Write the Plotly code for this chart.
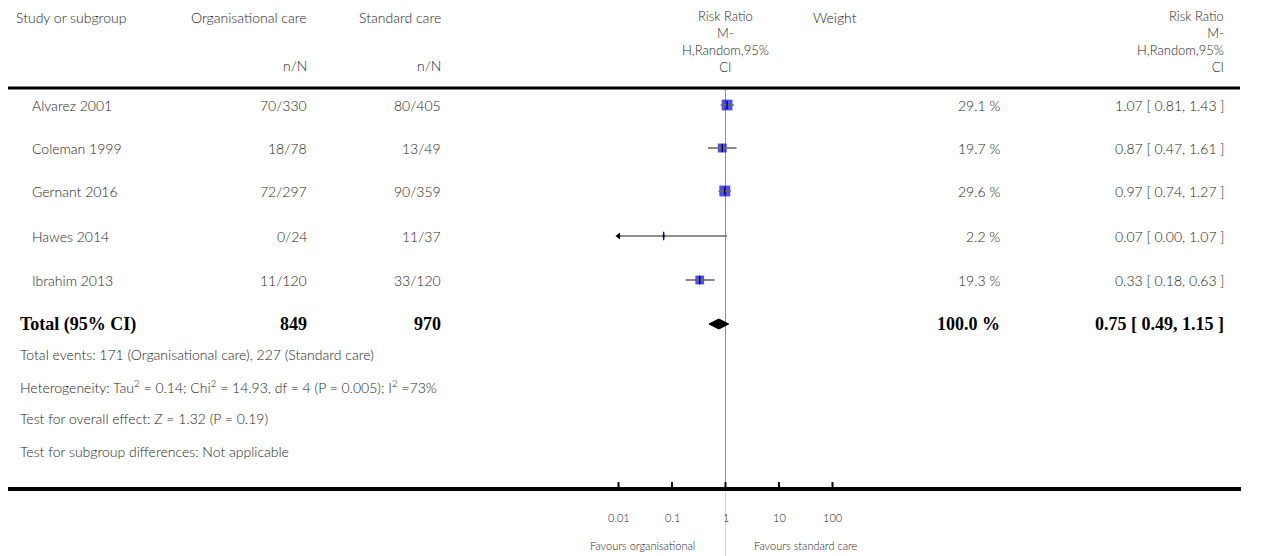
import math
import plotly.graph_objects as go

# ---------------- data ----------------
studies = ["Alvarez 2001", "Coleman 1999", "Gernant 2016", "Hawes 2014", "Ibrahim 2013"]
org_events = ["70/330", "18/78", "72/297", "0/24", "11/120"]
std_events = ["80/405", "13/49", "90/359", "11/37", "33/120"]
rr = [1.07, 0.87, 0.97, 0.07, 0.33]
ci_low = [0.81, 0.47, 0.74, 0.00, 0.18]
ci_high = [1.43, 1.61, 1.27, 1.07, 0.63]
weights = [29.1, 19.7, 29.6, 2.2, 19.3]

total_org = 849
total_std = 970
total_rr = 0.75
total_low = 0.49
total_high = 1.15
total_weight = 100.0

footer_lines = [
    "Total events: 171 (Organisational care), 227 (Standard care)",
    "Heterogeneity: Tau<sup>2</sup> = 0.14; Chi<sup>2</sup> = 14.93, df = 4 (P = 0.005); I<sup>2</sup> =73%",
    "Test for overall effect: Z = 1.32 (P = 0.19)",
    "Test for subgroup differences: Not applicable",
]

tick_vals = [0.01, 0.1, 1, 10, 100]
tick_text = ["0.01", "0.1", "1", "10", "100"]
favours_left = "Favours organisational"
favours_right = "Favours standard care"

# ---------------- layout constants ----------------
W, H = 1270, 556
X_ONE = 725.5      # pixel of RR = 1
DECADE = 53.5      # pixels per decade
PLOT_MIN, PLOT_MAX = 0.01, 100
row_y = [105, 148, 191, 236, 280]
total_y = 324
footer_y = [354, 386, 418, 451]
axis_y = 489
header_line_y = 88

FONT = "Lato"
TXT = "#1e1e1e"
FS = 14

def px(p):
    return p / W

fig = go.Figure()

# reference line at RR = 1
fig.add_trace(go.Scatter(x=[1, 1], y=[header_line_y, axis_y], mode="lines",
                         line=dict(color="#8f8f8f", width=1), hoverinfo="skip", showlegend=False))
fig.add_trace(go.Scatter(x=[1, 1], y=[axis_y, H], mode="lines",
                         line=dict(color="#d4d4d4", width=1), hoverinfo="skip", showlegend=False))

# squares sized by weight
fig.add_trace(go.Scatter(
    x=rr, y=row_y, mode="markers",
    marker=dict(symbol="square", color="#0000ff", size=[2.0 * math.sqrt(w) for w in weights],
                line=dict(width=0)),
    hoverinfo="skip", showlegend=False))

# CI lines
for est, lo, hi, y in zip(rr, ci_low, ci_high, row_y):
    lo_c = max(lo, PLOT_MIN)
    hi_c = min(hi, PLOT_MAX)
    fig.add_trace(go.Scatter(x=[lo_c, hi_c], y=[y, y], mode="lines",
                             line=dict(color="#6b6b6b", width=1.6), hoverinfo="skip", showlegend=False))
    if lo < PLOT_MIN:
        fig.add_trace(go.Scatter(x=[PLOT_MIN], y=[y], mode="markers",
                                 marker=dict(symbol="triangle-left", size=6, color="black"),
                                 hoverinfo="skip", showlegend=False))

# estimate tick marks
fig.add_trace(go.Scatter(
    x=rr, y=row_y, mode="markers",
    marker=dict(symbol="line-ns-open", size=6, color="black", line=dict(color="black", width=1.2)),
    hoverinfo="skip", showlegend=False))

# total diamond
fig.add_trace(go.Scatter(
    x=[total_low, total_rr, total_high, total_rr, total_low],
    y=[total_y, total_y - 5, total_y, total_y + 5, total_y],
    mode="lines", fill="toself", fillcolor="black",
    line=dict(color="black", width=1), hoverinfo="skip", showlegend=False))

# axis ticks
tx, ty = [], []
for t in tick_vals:
    tx += [t, t, None]
    ty += [axis_y - 7, axis_y, None]
fig.add_trace(go.Scatter(x=tx, y=ty, mode="lines", line=dict(color="black", width=2),
                         hoverinfo="skip", showlegend=False))

annotations = []

def ann(text, x, y, xanchor="left", size=FS, color=TXT, family=FONT, align=None, yanchor="middle",
        xref="paper", weight=300):
    d = dict(text=text, x=x, y=y, xref=xref, yref="y", xanchor=xanchor, yanchor=yanchor,
             showarrow=False, font=dict(family=family, size=size, color=color, weight=weight))
    if align:
        d["align"] = align
    annotations.append(d)

# headers
ann("Study or subgroup", px(14), 17)
ann("Organisational care", px(309), 17, xanchor="right")
ann("Standard care", px(443), 17, xanchor="right")
ann("n/N", px(309), 65, xanchor="right")
ann("n/N", px(443), 65, xanchor="right")
ann("Risk Ratio<br>M-<br>H,Random,95%<br>CI", px(X_ONE), 41, xanchor="center", align="center", size=13)
ann("Weight", px(835), 17, xanchor="center")
ann("Risk Ratio<br>M-<br>H,Random,95%<br>CI", px(1226), 41, xanchor="right", align="right", size=13)

# study rows
for name, o, s, est, lo, hi, w, y in zip(studies, org_events, std_events, rr, ci_low, ci_high, weights, row_y):
    ann(name, px(30), y)
    ann(o, px(309), y, xanchor="right")
    ann(s, px(443), y, xanchor="right")
    ann(f"{w:.1f} %", px(1002), y, xanchor="right")
    ann(f"{est:.2f} [ {lo:.2f}, {hi:.2f} ]", px(1226), y, xanchor="right")

# total row
BF = "Liberation Serif"
ann("<b>Total (95% CI)</b>", px(18), total_y, size=18, color="black", family=BF, weight=700)
ann(f"<b>{total_org}</b>", px(309), total_y, xanchor="right", size=18, color="black", family=BF, weight=700)
ann(f"<b>{total_std}</b>", px(443), total_y, xanchor="right", size=18, color="black", family=BF, weight=700)
ann(f"<b>{total_weight:.1f} %</b>", px(1002), total_y, xanchor="right", size=18, color="black", family=BF,
    weight=700)
ann(f"<b>{total_rr:.2f} [ {total_low:.2f}, {total_high:.2f} ]</b>", px(1226), total_y, xanchor="right",
    size=18, color="black", family=BF, weight=700)

# footer
for line, y in zip(footer_lines, footer_y):
    ann(line, px(18), y)

# tick labels
for t, lab in zip(tick_vals, tick_text):
    ann(lab, math.log10(t), 517, xanchor="center", size=11, xref="x")

ann(favours_left, px(697), 545, xanchor="right", size=11)
ann(favours_right, px(752), 545, xanchor="left", size=11)

shapes = [
    dict(type="line", xref="paper", yref="y", x0=px(8), x1=px(1240), y0=header_line_y, y1=header_line_y,
         line=dict(color="black", width=3)),
    dict(type="line", xref="paper", yref="y", x0=px(8), x1=px(1241), y0=axis_y, y1=axis_y,
         line=dict(color="black", width=4)),
]

x_lo = (0 - X_ONE) / DECADE
x_hi = (W - X_ONE) / DECADE

fig.update_layout(
    width=W, height=H,
    margin=dict(l=0, r=0, t=0, b=0),
    paper_bgcolor="white", plot_bgcolor="white",
    xaxis=dict(type="log", range=[x_lo, x_hi], visible=False, showgrid=False, zeroline=False),
    yaxis=dict(range=[H, 0], visible=False, showgrid=False, zeroline=False),
    annotations=annotations,
    shapes=shapes,
    showlegend=False,
    hovermode=False,
)

fig.write_html("out.html", config={"displayModeBar": False, "staticPlot": True},
               post_script="document.body.style.margin='0';document.body.style.overflow='hidden';")
